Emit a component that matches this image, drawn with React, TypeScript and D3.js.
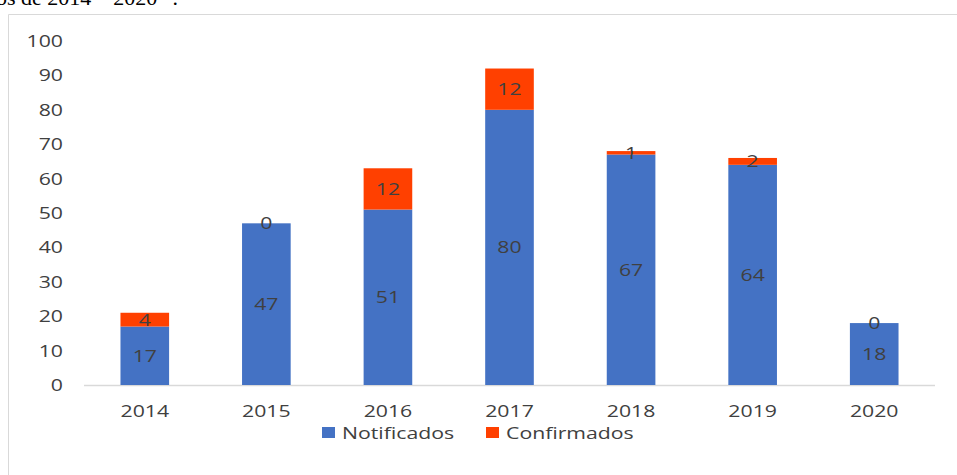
import React from "react";
import * as d3 from "d3";

const years = ["2014", "2015", "2016", "2017", "2018", "2019", "2020"];
const notificados = [17, 47, 51, 80, 67, 64, 18];
const confirmados = [4, 0, 12, 12, 1, 2, 0];
const yTicks = [0, 10, 20, 30, 40, 50, 60, 70, 80, 90, 100];
const seriesNames = ["Notificados", "Confirmados"];
const colors = ["#4472C4", "#FF4000"];

const W = 957;
const H = 475;
const font = "'Open Sans', sans-serif";
const txt = "#404040";
const SX = 1.25;

function T({ x, y, anchor = "start", children }: { x: number; y: number; anchor?: string; children: React.ReactNode }) {
  return (
    <text
      transform={`translate(${x},${y}) scale(${SX},1)`}
      dy="0.35em"
      textAnchor={anchor}
      fontFamily={font}
      fontSize={17}
      fill={txt}
    >
      {children}
    </text>
  );
}

export default function App() {
  const x = d3.scaleBand<string>().domain(years).range([84, 935]).paddingInner(0.6).paddingOuter(0.3);
  const y = d3.scaleLinear().domain([0, 100]).range([385, 41]);
  const bw = x.bandwidth();

  return (
    <svg width={W} height={H} style={{ position: "fixed", top: 0, left: 0, background: "#fff" }}>
      <text x={-4} y={5} fontFamily="'Liberation Serif', serif" fontSize={22} fill="#000">
        os de 2014 – 2020 ”.
      </text>
      <line x1={8.5} y1={14.5} x2={W} y2={14.5} stroke="#d9d9d9" />
      <line x1={8.5} y1={14.5} x2={8.5} y2={H} stroke="#d9d9d9" />
      <line x1={84} x2={935} y1={y(0) + 0.5} y2={y(0) + 0.5} stroke="#d9d9d9" strokeWidth={1.5} />
      {yTicks.map((t) => (
        <T key={t} x={63} y={y(t)} anchor="end">
          {t}
        </T>
      ))}
      {years.map((yr, i) => {
        const x0 = x(yr)!;
        const n = notificados[i];
        const c = confirmados[i];
        const cx = x0 + bw / 2;
        return (
          <g key={yr}>
            <rect x={x0} y={y(n)} width={bw} height={y(0) - y(n)} fill={colors[0]} />
            {c > 0 && <rect x={x0} y={y(n + c)} width={bw} height={y(n) - y(n + c)} fill={colors[1]} />}
            <T x={cx} y={(y(0) + y(n)) / 2} anchor="middle">{n}</T>
            <T x={cx} y={(y(n) + y(n + c)) / 2} anchor="middle">{c}</T>
            <T x={cx} y={411} anchor="middle">{yr}</T>
          </g>
        );
      })}
      {seriesNames.map((s, i) => {
        const lx = i === 0 ? 322 : 486;
        return (
          <g key={s}>
            <rect x={lx} y={427} width={13} height={11} fill={colors[i]} />
            <T x={lx + 20} y={433}>{s}</T>
          </g>
        );
      })}
    </svg>
  );
}
